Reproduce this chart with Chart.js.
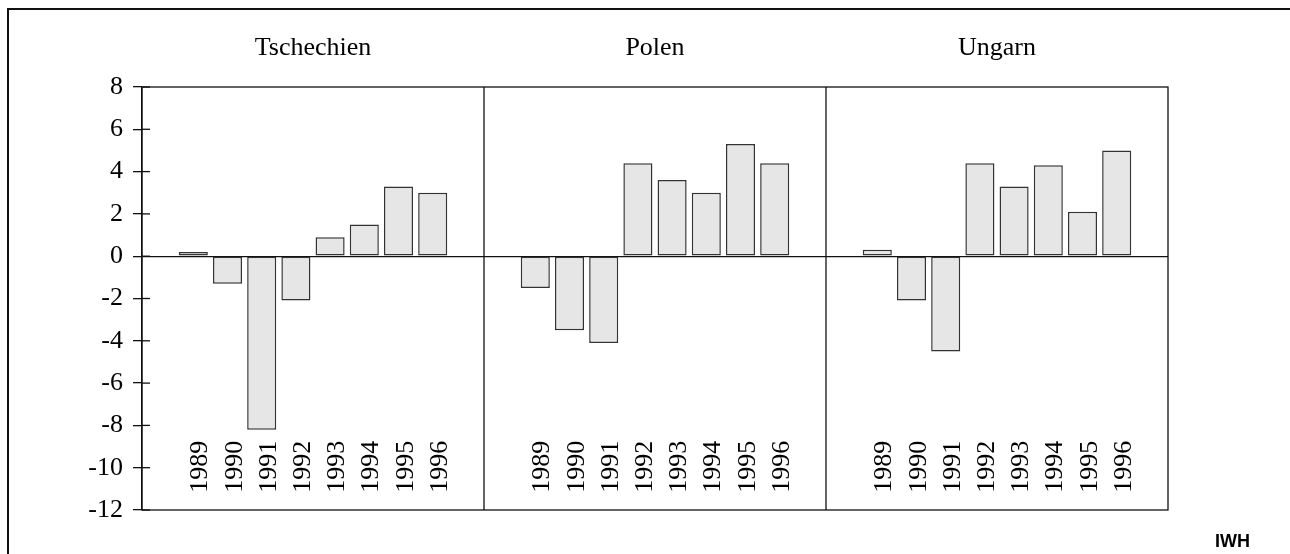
<!DOCTYPE html>
<html>
<head>
<meta charset="utf-8">
<script src="https://cdn.jsdelivr.net/npm/chart.js@4/dist/chart.umd.min.js"></script>
<style>
  body { margin: 0; background: #fff; }
  .frame { position: absolute; left: 7px; top: 8px; width: 1290px; height: 560px;
           border-top: 2px solid #111; border-left: 2px solid #111; }
  .box { position: absolute; left: 0; top: 0; width: 1290px; height: 554px; }
  .iwh { position: absolute; left: 1215px; top: 531px; font: bold 18px "Liberation Sans", Arial, sans-serif; }
</style>
</head>
<body>
<div class="frame"></div>
<div class="box"><canvas id="chart"></canvas></div>
<div class="iwh">IWH</div>
<script>
/* Daten */

const countries = ['Tschechien', 'Polen', 'Ungarn']
const years = ['1989', '1990', '1991', '1992', '1993', '1994', '1995', '1996']
const tschechien = [0.2, -1.3, -8.2, -2.1, 0.9, 1.5, 3.3, 3.0]
const polen = [-1.5, -3.5, -4.1, 4.4, 3.6, 3.0, 5.3, 4.4]
const ungarn = [0.3, -2.1, -4.5, 4.4, 3.3, 4.3, 2.1, 5.0]
const yTicks = [8, 6, 4, 2, 0, -2, -4, -6, -8, -10, -12]

// each panel: empty slot, 8 years, empty slot
const labels = []
const values = []
;[tschechien, polen, ungarn].forEach(series => {
  labels.push('')
  values.push(null)
  series.forEach((v, i) => { labels.push(years[i]); values.push(v) })
  labels.push('')
  values.push(null)
})

const serif = '"Liberation Serif", "Times New Roman", serif'

/* Rahmen, Trennlinien, Titel, Jahreszahlen */

const panelPlugin = {
  id: 'panels',
  afterDatasetsDraw(chart) {
    const { ctx, chartArea: a, scales: { x, y } } = chart
    ctx.save()
    ctx.strokeStyle = '#111'
    ctx.lineWidth = 1.3
    ctx.strokeRect(a.left, a.top, a.right - a.left, a.bottom - a.top)

    // panel dividers
    for (let p = 1; p < countries.length; p++) {
      const px = (x.getPixelForValue(p * 10 - 1) + x.getPixelForValue(p * 10)) / 2
      ctx.beginPath()
      ctx.moveTo(px, a.top)
      ctx.lineTo(px, a.bottom)
      ctx.stroke()
    }

    // inner tick marks
    yTicks.forEach(t => {
      const py = y.getPixelForValue(t)
      ctx.beginPath()
      ctx.moveTo(a.left, py)
      ctx.lineTo(a.left + 8, py)
      ctx.stroke()
    })

    ctx.fillStyle = '#000'
    ctx.font = '26px ' + serif

    // panel titles
    ctx.textAlign = 'center'
    ctx.textBaseline = 'alphabetic'
    countries.forEach((c, p) => {
      const cx = (x.getPixelForValue(p * 10 + 4) + x.getPixelForValue(p * 10 + 5)) / 2
      ctx.fillText(c, cx, a.top - 32)
    })

    // rotated year labels
    ctx.textAlign = 'left'
    labels.forEach((l, k) => {
      if (!l) return
      ctx.save()
      ctx.translate(x.getPixelForValue(k) + 14, y.getPixelForValue(-11.18))
      ctx.rotate(-Math.PI / 2)
      ctx.fillText(l, 0, 0)
      ctx.restore()
    })
    ctx.restore()
  }
}

const ctx = document.getElementById('chart').getContext('2d')
const myChart = new Chart(ctx, {
  type: 'bar',
  data: {
    labels: labels,
    datasets: [{
      data: values,
      backgroundColor: '#e6e6e6',
      borderColor: '#333',
      borderWidth: 1.5,
      borderSkipped: false,
      barPercentage: 0.85,
      categoryPercentage: 1
    }]
  },
  options: {
    responsive: true,
    maintainAspectRatio: false,
    animation: false,
    events: [],
    layout: { padding: { left: 0, top: 87, right: 122, bottom: 44 } },
    plugins: { legend: { display: false }, tooltip: { enabled: false } },
    scales: {
      x: { display: false },
      y: {
        min: -12,
        max: 8,
        afterFit: s => { s.width = 142 },
        afterBuildTicks: s => { s.ticks = yTicks.map(v => ({ value: v })) },
        border: { display: true, color: '#111', width: 1.3 },
        grid: {
          color: c => (c.tick && c.tick.value === 0 ? '#111' : 'rgba(0,0,0,0)'),
          lineWidth: 1.3,
          tickColor: '#111',
          tickLength: 9
        },
        ticks: {
          color: '#000',
          padding: 10,
          font: { family: serif, size: 26 }
        }
      }
    }
  },
  plugins: [panelPlugin]
})
</script>
</body>
</html>
